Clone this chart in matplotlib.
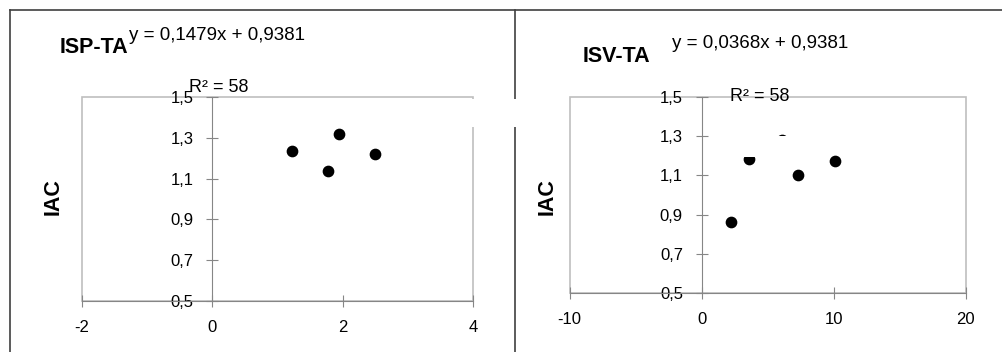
import matplotlib.pyplot as plt
from matplotlib.lines import Line2D
from matplotlib.patches import Rectangle

# data
isp_x = [1.22, 1.78, 1.95, 2.49]
isp_y = [1.235, 1.137, 1.32, 1.219]
isv_x = [2.2, 3.6, 6.06, 7.27, 10.1]
isv_y = [0.861, 1.181, 1.28, 1.102, 1.173]

y_ticks = [0.5, 0.7, 0.9, 1.1, 1.3, 1.5]
isp_xticks = [-2, 0, 2, 4]
isv_xticks = [-10, 0, 10, 20]

isp_title = "ISP-TA"
isv_title = "ISV-TA"
isp_eq = "y = 0,1479x + 0,9381"
isv_eq = "y = 0,0368x + 0,9381"
r2_text = "R² = 58"
y_label = "IAC"

plt.rcParams['font.family'] = ['Liberation Sans', 'DejaVu Sans']

W, H = 1003, 352
fig = plt.figure(figsize=(W / 100, H / 100), dpi=100)


def fx(x):
    return x / W


def fy(y):
    return 1 - y / H


def comma(v):
    return ("%g" % v).replace(".", ",")


def make_axes(rect, xs, ys, xticks, xlim):
    ax = fig.add_axes(rect)
    ax.set_xlim(xlim)
    ax.set_ylim(0.5, 1.5)
    # light grey plot-area frame
    ax.add_patch(Rectangle((0, 0), 1, 1, transform=ax.transAxes, fill=False,
                           edgecolor='#bfbfbf', lw=1.2, clip_on=False, zorder=1))
    for s in ['top', 'right']:
        ax.spines[s].set_visible(False)
    ax.spines['left'].set_position(('data', 0))
    ax.spines['left'].set_color('#868686')
    ax.spines['bottom'].set_color('#868686')
    ax.spines['left'].set_zorder(2)
    ax.set_yticks(y_ticks)
    ax.set_yticklabels([comma(v) for v in y_ticks])
    ax.set_xticks(xticks)
    ax.set_xticklabels([comma(v) for v in xticks])
    ax.tick_params(direction='inout', length=9, color='#868686', labelsize=12,
                   labelcolor='#000000')
    ax.tick_params(axis='y', pad=9)
    ax.tick_params(axis='x', pad=9)
    ax.scatter(xs, ys, s=55, color='black', zorder=3, clip_on=False)
    return ax


ax1 = make_axes([fx(82), fy(301), fx(473 - 82), (301 - 97) / H],
                isp_x, isp_y, isp_xticks, (-2, 4))
ax2 = make_axes([fx(569.7), fy(293.3), fx(965.7 - 569.7), (293.3 - 96.7) / H],
                isv_x, isv_y, isv_xticks, (-10, 20))

# hidden label box that covers part of the right chart
ax2.add_patch(Rectangle((0.44, 0.695), 0.118, 0.105, transform=ax2.transAxes,
                        facecolor='white', edgecolor='none', zorder=4))

# outer frames
lc = '#404040'
fig.add_artist(Line2D([fx(10), fx(10)], [fy(10), 0], color=lc, lw=1.2))
fig.add_artist(Line2D([fx(10), 1], [fy(10), fy(10)], color=lc, lw=1.2))
fig.add_artist(Line2D([fx(515), fx(515)], [fy(10), 0], color=lc, lw=1.2))
# white gap across divider
fig.add_artist(Rectangle((fx(471), fy(127)), fx(520 - 471), (127 - 99) / H,
                         facecolor='white', edgecolor='none', zorder=5))

# texts
fig.text(fx(60), fy(53), isp_title, fontsize=15.5, fontweight='bold', va='baseline')
fig.text(fx(129), fy(39.5), isp_eq, fontsize=13.5, va='baseline')
fig.text(fx(189), fy(92), r2_text, fontsize=13, va='baseline', zorder=6)
fig.text(fx(53), fy(197), y_label, fontsize=15.5, fontweight='bold',
         rotation=90, ha='center', va='center')

fig.text(fx(583), fy(61.7), isv_title, fontsize=15.5, fontweight='bold', va='baseline')
fig.text(fx(672), fy(47.7), isv_eq, fontsize=13.5, va='baseline')
fig.text(fx(730), fy(100.7), r2_text, fontsize=13, va='baseline', zorder=6)
fig.text(fx(546.7), fy(196.7), y_label, fontsize=15.5, fontweight='bold',
         rotation=90, ha='center', va='center')

fig.savefig('out.png', dpi=100)
